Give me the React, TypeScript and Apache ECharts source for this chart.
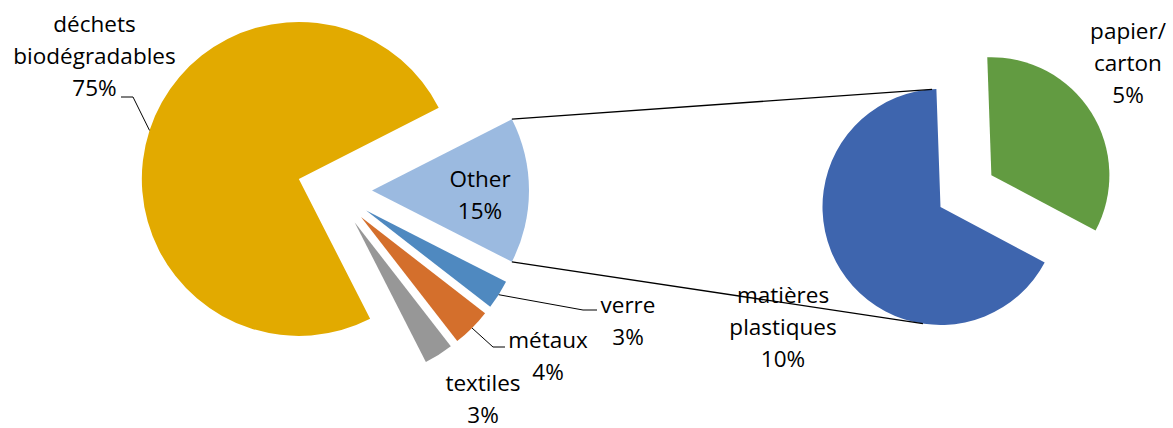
import React, { useEffect, useRef } from "react";
import * as echarts from "echarts";

// ---- data ----
const mainCategories = ["Other", "verre", "métaux", "textiles", "déchets\nbiodégradables"];
const mainValues = [15, 3, 4, 3, 75];
const mainColors = ["#9BBAE0", "#4F89C0", "#D46F2C", "#979797", "#E2AA00"];

const secondCategories = ["papier/\ncarton", "matières\nplastiques"];
const secondValues = [5, 10];
const secondColors = ["#629B41", "#3E65AE"];

// ---- layout ----
const C1 = [334.5, 190.5];
const R1 = 157;
const OFF1 = 37.5;
const START1 = 27;

const C2 = [940.5, 207];
const R2 = 118;
const OFF2 = 60;
const START2 = 92;

const mainLabelPos = [[480, 194], [628, 320], [548, 355], [483, 398], [94.5, 55.5]];
const secondLabelPos = [[1128, 62], [783, 326]];
// leader elbows for main slices (null = no leader)
const mainLeaders: (number[][] | null)[] = [null, [[583, 310], [597, 310]], [[493, 347], [505, 347]], null, [[133, 97], [121, 97]]];

const FONT = "'Open Sans', 'Liberation Sans', sans-serif";
const FS = 22.5;
const LH = 32;

function sliceGeom(values: number[], start: number) {
  const total = values.reduce((a, b) => a + b, 0);
  let cum = 0;
  return values.map((v) => {
    const a0 = start - (cum / total) * 360;
    const a1 = a0 - (v / total) * 360;
    cum += v;
    return { a0, a1, mid: (a0 + a1) / 2 };
  });
}
const rad = (d: number) => (d * Math.PI) / 180;
const pt = (c: number[], r: number, deg: number) => [c[0] + r * Math.cos(rad(deg)), c[1] - r * Math.sin(rad(deg))];

function tangent(P: number[], C: number[], r: number, upper: boolean) {
  const dx = P[0] - C[0];
  const dy = P[1] - C[1];
  const D = Math.hypot(dx, dy);
  const th = Math.atan2(dy, dx);
  const al = Math.acos(r / D);
  const p1 = [C[0] + r * Math.cos(th + al), C[1] + r * Math.sin(th + al)];
  const p2 = [C[0] + r * Math.cos(th - al), C[1] + r * Math.sin(th - al)];
  if (upper) return p1[1] < p2[1] ? p1 : p2;
  return p1[1] > p2[1] ? p1 : p2;
}

function labelText(x: number, y: number, name: string, value: number) {
  return {
    type: "text",
    z: 20,
    x,
    y,
    style: {
      text: `${name}\n${value}%`,
      fill: "#000",
      fontFamily: FONT,
      fontSize: FS,
      lineHeight: LH,
      align: "center",
      verticalAlign: "middle",
    },
  };
}

export default function App() {
  const ref = useRef<HTMLDivElement>(null);
  useEffect(() => {
    if (!ref.current) return;
    const chart = echarts.init(ref.current, null, { renderer: "svg" });

    const g1 = sliceGeom(mainValues, START1);

    // connectors: Other slice outer corners -> tangent on second pie
    const otherApex = pt(C1, OFF1, g1[0].mid);
    const topCorner = pt(otherApex, R1, g1[0].a0);
    const botCorner = pt(otherApex, R1, g1[0].a1);
    const topT = tangent(topCorner, C2, R2, true);
    const botT = tangent(botCorner, C2, R2, false);

    const graphics: any[] = [
      { type: "line", z: 10, shape: { x1: topCorner[0], y1: topCorner[1], x2: topT[0], y2: topT[1] }, style: { stroke: "#000", lineWidth: 1.3 } },
      { type: "line", z: 10, shape: { x1: botCorner[0], y1: botCorner[1], x2: botT[0], y2: botT[1] }, style: { stroke: "#000", lineWidth: 1.3 } },
    ];
    mainLeaders.forEach((ld, i) => {
      if (!ld) return;
      const apex = pt(C1, OFF1, g1[i].mid);
      const outer = pt(apex, R1, g1[i].mid);
      graphics.push({
        type: "polyline",
        z: 10,
        shape: { points: [outer, ...ld] },
        style: { stroke: "#000", lineWidth: 1, fill: "none" },
      });
    });
    mainCategories.forEach((n, i) => {
      graphics.push(labelText(mainLabelPos[i][0], mainLabelPos[i][1], n, mainValues[i]));
    });
    secondCategories.forEach((n, i) => {
      graphics.push(labelText(secondLabelPos[i][0], secondLabelPos[i][1], n, secondValues[i]));
    });

    chart.setOption({
      animation: false,
      backgroundColor: "#fff",
      graphic: graphics,
      series: [
        {
          type: "pie",
          center: C1,
          radius: [0, R1],
          startAngle: START1,
          clockwise: true,
          avoidLabelOverlap: false,
          selectedMode: "multiple",
          selectedOffset: OFF1,
          emphasis: { disabled: true },
          select: { itemStyle: { borderWidth: 0 } },
          itemStyle: { borderWidth: 0 },
          label: { show: false },
          labelLine: { show: false },
          data: mainCategories.map((n, i) => ({
            name: n,
            value: mainValues[i],
            selected: true,
            itemStyle: { color: mainColors[i] },
          })),
        },
        {
          type: "pie",
          center: C2,
          radius: [0, R2],
          startAngle: START2,
          clockwise: true,
          avoidLabelOverlap: false,
          selectedMode: "multiple",
          selectedOffset: OFF2,
          emphasis: { disabled: true },
          select: { itemStyle: { borderWidth: 0 } },
          itemStyle: { borderWidth: 0 },
          label: { show: false },
          labelLine: { show: false },
          data: secondCategories.map((n, i) => ({
            name: n,
            value: secondValues[i],
            selected: i === 0,
            itemStyle: { color: secondColors[i] },
          })),
        },
      ],
    });
    return () => chart.dispose();
  }, []);
  return <div ref={ref} style={{ position: "fixed", left: 0, top: 0, width: 1173, height: 428 }} />;
}
